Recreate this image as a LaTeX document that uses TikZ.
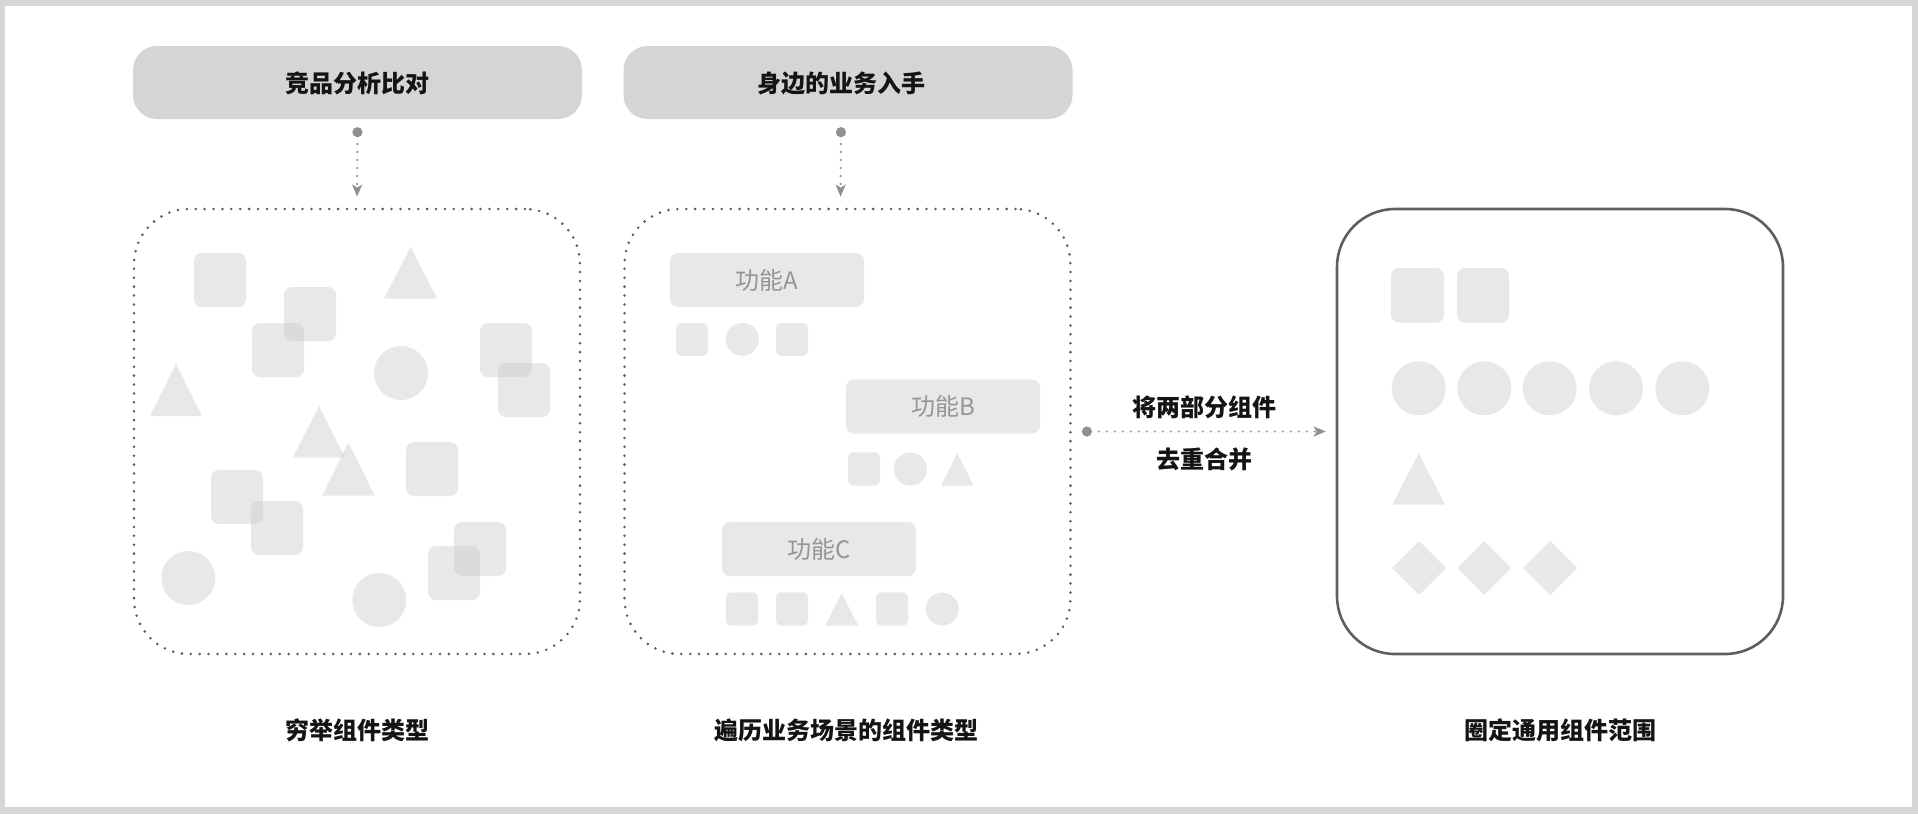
\documentclass[tikz,border=0pt]{standalone}
\usepackage{fontspec}
\newfontfamily\cjk{Noto Sans CJK SC}
\usetikzlibrary{arrows.meta}
\definecolor{framegray}{HTML}{D6D6D6}
\definecolor{topfill}{HTML}{D5D5D5}
\definecolor{shapefill}{HTML}{CDCDCD}
\definecolor{featfill}{HTML}{E8E8E8}
\definecolor{dotgray}{HTML}{5A5A5A}
\definecolor{conngray}{HTML}{909090}
\definecolor{solidgray}{HTML}{5E5E5E}
\definecolor{labelgray}{HTML}{959595}
\begin{document}
\begin{tikzpicture}[x=1pt,y=-1pt,
  topbox/.style={fill=topfill, rounded corners=24pt, minimum width=449pt, minimum height=73pt, inner sep=0pt},
  toptext/.style={font=\cjk\bfseries\fontsize{24}{28}\selectfont, text=black!92, inner sep=0pt},
  dotbox/.style={draw=dotgray, line width=2.8pt, dash pattern=on 0pt off 8.9pt, line cap=round, rounded corners=55pt, minimum width=446pt, minimum height=445pt, inner sep=0pt},
  solidbox/.style={draw=solidgray, line width=2.6pt, rounded corners=58pt, minimum width=446pt, minimum height=445pt, inner sep=0pt},
  sh/.style={fill=shapefill, fill opacity=0.45},
  sq/.style={sh, rounded corners=8pt},
  ssq/.style={sh, rounded corners=5pt},
  feat/.style={fill=featfill, rounded corners=8pt, inner sep=0pt, minimum width=194pt, minimum height=54pt, text=labelgray, font=\cjk\fontsize{24}{28}\selectfont},
  caption/.style={font=\cjk\bfseries\fontsize{24}{28}\selectfont, text=black!92, inner sep=0pt},
  conn/.style={draw=conngray, line width=2.4pt, dash pattern=on 0pt off 8pt, line cap=round,
    arrows={Circle[length=10pt]-Stealth[length=12pt,width=10pt,inset=3pt]}}
]
\fill[framegray] (0,0) rectangle (1918,814);
\fill[white] (5,6) rectangle (1912,807);
\useasboundingbox (0,0) rectangle (1918,814);

% top boxes
\node[topbox] (top1) at (357.5,82.5) {};
\node[toptext] (t1) at (357.5,83) {竞品分析比对};
\node[topbox] (top2) at (848,82.5) {};
\node[toptext] (t2) at (841,83) {身边的业务入手};

% main boxes
\node[dotbox] (box1) at (357,431.5) {};
\node[dotbox] (box2) at (847.5,431.5) {};
\node[solidbox] (box3) at (1560,431.5) {};

% connectors
\draw[conn, shorten <=8pt, shorten >=11pt] (top1.south) -- (box1.north);
\draw[conn, shorten <=8pt, shorten >=11pt] ([xshift=-7pt]top2.south) -- ([xshift=-7pt]box2.north);
\draw[conn, shorten <=10pt, shorten >=10pt] (box2.east) -- (box3.west);
\node[caption] (m1) at (1204,407) {将两部分组件};
\node[caption] (m2) at (1204,459) {去重合并};

% captions
\node[caption] (c1) at (357,730) {穷举组件类型};
\node[caption] (c2) at (846,730) {遍历业务场景的组件类型};
\node[caption] (c3) at (1560,730) {圈定通用组件范围};

% box 1 shapes
\fill[sq] (194,253) rectangle (246,307);
\fill[sq] (284,287) rectangle (336,341);
\fill[sq] (252,323) rectangle (304,377);
\fill[sq] (480,323) rectangle (532,377);
\fill[sq] (498,363) rectangle (550,417);
\fill[sq] (406,442) rectangle (458,496);
\fill[sq] (211,470) rectangle (263,524);
\fill[sq] (251,501) rectangle (303,555);
\fill[sq] (454,522) rectangle (506,576);
\fill[sq] (428,546) rectangle (480,600);
\fill[sh] (384,298.7) -- (410.7,246.7) -- (437,298.7) -- cycle;
\fill[sh] (150,416) -- (176,363.7) -- (202,416) -- cycle;
\fill[sh] (292.7,457.7) -- (319,406) -- (345,457.7) -- cycle;
\fill[sh] (322,495.7) -- (348.3,442.7) -- (374.7,495.7) -- cycle;
\fill[sh] (401,373) circle[radius=27];
\fill[sh] (188.3,578) circle[radius=27];
\fill[sh] (379.3,600) circle[radius=27];

% box 2 features
\node[feat] (fa) at (767,280) {功能A};
\node[feat] (fb) at (943,406.5) {功能B};
\node[feat] (fc) at (819,549) {功能C};
\fill[ssq] (676,323) rectangle (708,356);
\fill[sh] (742.3,339.3) circle[radius=16.5];
\fill[ssq] (776,323) rectangle (808,356);
\fill[ssq] (848,452.3) rectangle (880,485.7);
\fill[sh] (910.3,469) circle[radius=16.5];
\fill[sh] (941,485.7) -- (957.3,453.3) -- (973.7,485.7) -- cycle;
\fill[ssq] (726,592.3) rectangle (758,625.7);
\fill[ssq] (776,592.3) rectangle (808,625.7);
\fill[sh] (825,625.7) -- (841.7,593.3) -- (858.3,625.7) -- cycle;
\fill[ssq] (876,592.3) rectangle (908,625.7);
\fill[sh] (942.3,609) circle[radius=16.5];

% box 3 shapes
\fill[sq] (1391,268) rectangle (1444,322.7);
\fill[sq] (1457,268) rectangle (1509,322.7);
\foreach \cx in {1418.7,1484.3,1549.7,1616,1682.3}
  \fill[sh] (\cx,388.3) circle[radius=27];
\fill[sh] (1392.3,504.7) -- (1418.7,453.3) -- (1445,504.7) -- cycle;
\foreach \cx in {1419,1484.3,1550}
  \fill[sh] (\cx-27,568) -- (\cx,541) -- (\cx+27,568) -- (\cx,595) -- cycle;
\end{tikzpicture}
\end{document}
